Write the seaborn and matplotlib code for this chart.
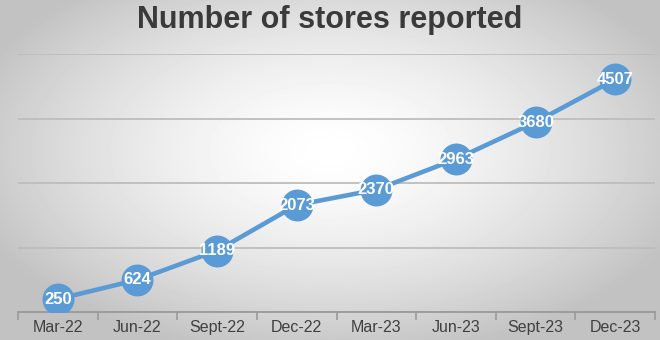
import numpy as np
import pandas as pd
import matplotlib
matplotlib.use("Agg")
import matplotlib.pyplot as plt
import seaborn as sns

categories = ["Mar-22", "Jun-22", "Sept-22", "Dec-22", "Mar-23", "Jun-23", "Sept-23", "Dec-23"]
stores = [250, 624, 1189, 2073, 2370, 2963, 3680, 4507]
title = "Number of stores reported"

sns.set_theme(style="white")
plt.rcParams['font.family'] = ['Liberation Sans', 'DejaVu Sans']

fig = plt.figure(figsize=(6.6, 3.4), dpi=100)

# radial gradient background
bg = fig.add_axes([0, 0, 1, 1], zorder=0)
yy, xx = np.mgrid[0:340, 0:660]
r = np.sqrt(((xx - 330) / 400.0) ** 2 + ((yy - 150) / 220.0) ** 2)
shade = np.clip(1.0 - 0.26 * r ** 1.5, 0.76, 1.0)
bg.imshow(shade, cmap="gray", vmin=0, vmax=1, aspect="auto", extent=[0, 1, 0, 1])
bg.axis("off")

ax = fig.add_axes([18 / 660, 1 - 312 / 340, 637 / 660, (312 - 54) / 340], zorder=1)
ax.patch.set_alpha(0)

df = pd.DataFrame({"period": categories, "stores": stores})
df["pos"] = np.arange(len(categories))

ax.set_ylim(0, 5000)
ax.set_yticks([0, 1250, 2500, 3750, 5000])
ax.yaxis.grid(True, color="#bdbdbd", linewidth=1.3)
ax.set_axisbelow(True)

sns.lineplot(data=df, x="pos", y="stores", ax=ax, color="#5B9BD5", linewidth=3.3,
             marker="o", markersize=23, markeredgewidth=0, zorder=3)

for x, v in zip(df["pos"], df["stores"]):
    ax.text(x, v, str(v), color="white", fontsize=12, fontweight="bold",
            ha="center", va="center", zorder=4)

ax.set_xlim(-0.5, len(categories) - 0.5)
ax.set_xticks(df["pos"])
ax.set_xticklabels(categories, fontsize=11.5, color="#404040")
ax.set_xticks(np.arange(-0.5, len(categories)), minor=True)
ax.tick_params(axis="x", which="major", length=0, pad=6)
ax.tick_params(axis="x", which="minor", length=6, color="#9a9a9a", width=1.2, bottom=True)
ax.set_yticklabels([])
ax.tick_params(axis="y", length=0)
ax.set_xlabel("")
ax.set_ylabel("")
for s in ["top", "left", "right"]:
    ax.spines[s].set_visible(False)
ax.spines["bottom"].set_color("#9a9a9a")
ax.spines["bottom"].set_linewidth(1.3)

fig.text(0.5, 1 - 20 / 340, title, ha="center", va="center", fontsize=22,
         fontweight="bold", color="#3a3a3a")

fig.savefig("out.png", dpi=100)
